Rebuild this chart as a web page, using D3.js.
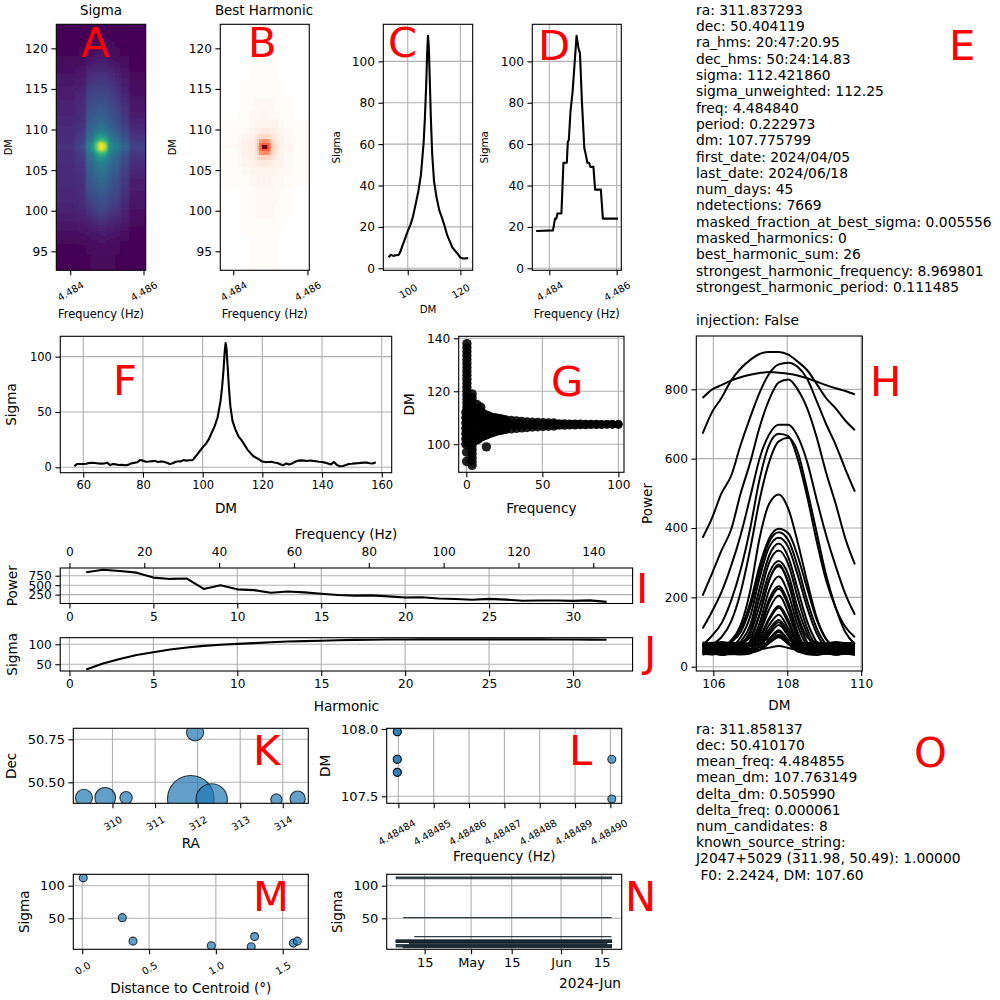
<!DOCTYPE html>
<html>
<head>
<meta charset="UTF-8">
<script src="https://d3js.org/d3.v7.min.js"></script>
<style>
  html, body { margin: 0; padding: 0; background: white; }
  svg { display: block; }
  text { font-family: "DejaVu Sans", sans-serif; fill: black; }
  .tick text { font-size: 12.2px; }
  .f11 .tick text { font-size: 11.5px; }
  .f13 .tick text { font-size: 13px; }
  .small .tick text { font-size: 10px; }
  .tick line, .domain { stroke: black; stroke-width: 1.1; }
  .grid line { stroke: #b0b0b0; stroke-width: 1.1; }
  .info { font-size: 13.85px; white-space: pre; }
  .letter { font-size: 41.7px; fill: red; }
</style>
</head>
<body>
<div id="chart"></div>
<script>
// ---- candidate info text
var infoTop = ["ra: 311.837293", "dec: 50.404119", "ra_hms: 20:47:20.95", "dec_hms: 50:24:14.83",
  "sigma: 112.421860", "sigma_unweighted: 112.25", "freq: 4.484840", "period: 0.222973", "dm: 107.775799",
  "first_date: 2024/04/05", "last_date: 2024/06/18", "num_days: 45", "ndetections: 7669",
  "masked_fraction_at_best_sigma: 0.005556", "masked_harmonics: 0", "best_harmonic_sum: 26",
  "strongest_harmonic_frequency: 8.969801", "strongest_harmonic_period: 0.111485", "", "injection: False"];
var infoBottom = ["ra: 311.858137", "dec: 50.410170", "mean_freq: 4.484855", "mean_dm: 107.763149",
  "delta_dm: 0.505990", "delta_freq: 0.000061", "num_candidates: 8", "known_source_string:",
  "J2047+5029 (311.98, 50.49): 1.00000", " F0: 2.2424, DM: 107.60"];

// ---- A, B heatmaps: cell edges and values
var freqEdges = [4.48362, 4.48414, 4.48424, 4.48443, 4.48458, 4.48464, 4.48470, 4.48478, 4.48490, 4.48497, 4.48503, 4.48512, 4.48523, 4.48537, 4.48560, 4.48606];
var dmEdges = [92.7, 95, 97, 99, 101, 103, 104.5, 105.5, 106.3, 106.9, 107.4, 107.7, 108.1, 108.4, 108.9, 109.5, 110.3, 111.3, 112.5, 114, 116, 118, 120, 123];
var sigmaGrid = [
  [3,3,4,4,5,5,5,5.5,5.5,5,5,5,4,4,3],
  [5,5,5,6,7,7,7,8,8,7,7,6,6,4,3],
  [9,9,10,11,12,13,13,14,14,13,12,12,11,9,5],
  [13,14,15,20,22,23,24,25,25,24,22,20,19,14,8],
  [15,16,17,27,29,30,31,32,32,31,29,27,25,18,10],
  [16,17,18,32,34,36,38,40,39,37,34,31,29,21,12],
  [16,18,19,36,38,41,43,46,45,42,38,35,33,24,15],
  [17,19,20,38,41,45,49,52,50,46,42,38,35,27,17],
  [17,20,22,41,45,52,58,64,60,54,47,42,38,29,19],
  [17,22,24,45,51,62,72,82,78,66,52,45,42,33,21],
  [18,23,25,49,58,70,88,108,98,76,57,49,47,36,23],
  [18,24,26.5,51,61,76,90,112,104,80,58,51,49,38,24],
  [18,23,25,49,58,70,88,108,98,76,57,49,47,36,23],
  [17,22,24,45,51,62,72,80,76,64,52,45,42,33,21],
  [17,20,22,41,45,52,58,62,58,52,46,41,37,29,19],
  [16,18,20,37,41,44,47,48,47,44,40,36,33,26,16],
  [15,17,18,34,36,38,39,40,39,38,35,32,29,22,14],
  [14,16,17,31,32,33,34,35,34,33,31,29,26,20,11],
  [13,15,16,27,28,29,30,30,30,29,27,25,23,17,9],
  [11,12,13,22,23,24,24,24,24,24,22,21,18,13,7],
  [8,9,9,15,16,16,17,17,17,16,15,14,12,9,5],
  [5,5,6,8,8,9,9,9,9,9,8,7,6,5,3],
  [3,3,3,4,4,4,4,4.5,4.5,4,4,4,3,3,3]
];
var harmonicGrid = [
  [0,0,0,1,1,1,1,1,1,1,1,1,0,0,0],
  [0,0,0,1,1,1,1,1,1,1,1,1,0,0,0],
  [0,0,1,1,1,1,1,1,1,1,1,1,1,0,0],
  [0,1,1,1,2,2,2,2,2,2,2,1,1,1,0],
  [0,1,1,1,2,2,2,2,2,2,2,2,1,1,0],
  [1,1,1,2,2,3,3,3,3,3,2,2,2,1,1],
  [1,1,2,3,4,5,5,5,5,5,4,3,2,2,1],
  [1,2,3,5,7,9,9,9,9,9,8,5,4,2,1],
  [1,2,3,6,10,15,18,18,18,16,12,7,4,2,1],
  [1,2,4,7,12,20,38,42,42,30,16,8,5,2,1],
  [1,2,4,8,14,24,48,55,55,42,18,9,5,3,1],
  [2,3,4,8,15,26,50,100,60,45,20,10,6,3,1],
  [1,2,4,8,14,24,48,55,55,42,18,9,5,3,1],
  [1,2,4,7,12,20,35,40,40,28,15,8,5,2,1],
  [1,2,3,6,9,13,16,17,17,14,11,7,4,2,1],
  [1,1,2,4,6,8,8,9,9,8,7,5,3,2,1],
  [1,1,1,2,3,4,4,4,4,4,3,3,2,1,1],
  [0,1,1,2,2,2,3,3,3,2,2,2,1,1,0],
  [0,1,1,1,2,2,2,2,2,2,2,1,1,1,0],
  [0,0,1,1,1,1,1,1,1,1,1,1,1,0,0],
  [0,0,0,1,1,1,1,1,1,1,1,1,0,0,0],
  [0,0,0,0,1,1,1,1,1,1,1,0,0,0,0],
  [0,0,0,0,0,1,1,1,1,1,0,0,0,0,0]
];

// ---- C, F: sigma against DM
var scanDm = [57,58,59,60,61,62,63,64,65,66,67,68,69,70,71,72,73,74,75,76,77,78,79,80,81,82,83,84,85,86,87,88,89,90,91,92,92.7,93.5,94.5,95.5,96.5,97,98,99,100,101,102,103,104,105,106,106.5,107,107.4,107.7,108,108.4,108.8,109.3,110,111,112,113,114,115,116,117,118,119,120,121,122,123,124,125,126,127,128,129,130,131,132,133,134,135,136,137,138,139,140,141,142,143,144,145,146,147,148,149,150,151,152,153,154,155,156,157,158];
var scanSigma = [1,3,3,3,3.2,3.8,4,3.8,3.4,3.3,3.4,4.2,2,3,2.6,2,2.2,1.8,2.2,3.5,4,4.5,6.5,6,5,5.2,5.5,5.8,4.8,5.3,5,4,3,3.6,5,5.5,5.3,6.5,6,6.3,6.5,7.5,11,14.5,18,21,25,31,37,45,60,72,88,105,112.4,107,90,72,55,42,34,28,24.5,20.5,16,13,10,8.5,7,5.2,4.7,4.8,5,4.3,3.8,2.8,1.8,3.5,2.5,3.5,5,6,6.2,6,5.6,6.2,5.8,5.5,5,4.8,4.2,3.5,2.6,4.8,2,1,1.2,2,3,3.2,3.5,3.6,4,4.2,4.2,3.6,3.4,4.6];

// ---- D: sigma against frequency
var stepFreq = [4.48361,4.48411,4.48417,4.48421,4.48424,4.48436,4.48442,4.48452,4.48455,4.48458,4.48463,4.48469,4.48481,4.48487,4.48491,4.48497,4.48504,4.48507,4.48513,4.48518,4.48522,4.48531,4.48536,4.48553,4.48559,4.48604];
var stepSigma = [18,18.3,24,24,26.5,26.5,51,51,61,62,76,85,112.4,106,104,80,58,56,51,51,49,49,38,38,24,24];

// ---- G: detections in frequency and DM
var gFreqOuter = [6.5,9,11,13,15,17.5,20,23,26,29.5,33,36.5,40,43.5,47,50.5,54,57.5,61,64.5,68,71.5,75,78.5,82,85.5,89,92.5,96,100];
var gDmHigh = [113.5,112.5,111.5,111,110.5,110,109.8,109.5,109.2,109,108.8,108.6,108.4,108.3,108.2,108.1,108,108,107.9,107.9,107.8,107.8,107.8,107.7,107.7,107.7,107.6,107.6,107.6,107.6];
var gDmMid = [107.5,107.5,107.5,107.5,107.5,107.5,107.5,107.5,107.5,107.5,107.5,107.5,107.5,107.5,107.5,107.5,107.5,107.5,107.5,107.5,107.5,107.5,107.5,107.5,107.5,107.5,107.5,107.5,107.5,107.5];
var gDmLow = [101.5,102.5,103,103.5,104,104.5,105,105.3,105.6,105.8,106,106.2,106.3,106.5,106.6,106.7,106.8,106.9,107,107,107.1,107.1,107.2,107.2,107.3,107.3,107.3,107.4,107.4,107.4];
var gFreqInner = [0.4,0.4,0.4,0.4,0.4,0.4,0.4,0.4,0.4,0.4,0.4,0.4,0.4,0.4,0.4,0.4,0.4,0.4,0.4,0.4,0.4,0.4,0.4,0.4,0.4,0.4,
  -0.3,-0.3,-0.3,-0.3,-0.3,-0.3,-0.3,0.2,0.2,
  3.8,3.8,3.8,3.8,3.8,3.8,3.8,3.8,3.8,3.8,3.8,3.8,3.8,3.8,3.8,3.8,3.8,3.8,3.8,
  7,7,7,7,7,7,7,9.5,9.5,9.5,9.5,9.5,9.5,9.5,12,12,12,12,13.2,
  11,11,11,11,13,13,13,13,15,15,15,15,17.5,17.5,20,20,23,23,
  8,8,10,10,12,12,14,14,16,16,19,19,21.5,21.5,24.5,24.5];
var gDmInner = [138,136.5,135,133.5,132,130.5,129,127.5,126,124.5,123,121.5,120,118.5,117,115.5,114,112.5,111,109.5,108,106.5,105,103.5,102,100.5,
  112,110,108,106,104,102,100,97,93.5,
  92,93.5,95,96.5,98,99.5,101,102.5,104,105.5,107,108.5,110,111.5,113,114.5,116,117.5,119,
  103,105,107,109,111,113,115,103.5,105,107,109,111,112,114,105,107,109,110,99,
  104.5,106,109,110.5,105,106.5,108.5,110,105.5,106.5,108.5,109.5,106,108.9,106.2,108.7,106.4,108.5,
  113,102,112,103,111.2,103.3,110.8,103.8,110.2,104.3,109.9,104.8,109.6,105.2,109.3,105.5];

// ---- H: power against DM for each harmonic
var curveDm = [105.71,105.97,106.22,106.48,106.74,107,107.25,107.51,107.77,108.03,108.28,108.54,108.8,109.05,109.31,109.57,109.83];
var harmonicCurves = [
  [775,800,812,825,835,842,847,850,848,845,840,832,822,812,803,795,785],
  [672,735,775,825,860,885,902,908,908,900,880,855,815,775,745,710,682],
  [372,430,500,550,640,720,790,845,872,877,865,830,765,700,640,570,505],
  [205,270,335,395,500,590,690,770,820,828,800,745,660,560,470,370,295],
  [110,160,215,290,380,490,600,670,698,698,665,590,480,380,290,210,150],
  [62,90,125,190,280,400,540,640,672,665,600,490,360,250,170,115,85],
  [58,65,85,130,215,340,480,590,650,660,620,510,385,265,170,100,65],
  [52,50,54,75,110,185,290,370,398,385,320,225,135,80,55,50,52],
  [60,62,58,75,120,220,370,470,497,455,360,245,140,80,60,58,62],
  [44,40,46,70,100,170,275,360,388,365,290,190,110,65,48,44,40],
  [66,62,65,60,85,145,255,345,372,345,265,170,95,60,62,66,64],
  [40,36,42,40,72,120,225,320,355,315,225,130,70,42,38,41,37],
  [56,52,57,54,65,105,200,300,335,295,200,110,62,54,58,53,56],
  [36,39,35,38,60,95,175,270,305,265,170,95,42,38,35,38,36],
  [66,69,65,68,70,85,150,250,290,245,150,85,70,66,69,65,68],
  [48,44,49,46,50,75,150,250,295,240,140,70,46,48,44,47,49],
  [60,57,61,58,60,70,125,220,260,210,120,64,58,61,57,60,58],
  [42,45,41,44,42,65,110,195,232,185,100,48,42,45,41,43,46],
  [52,54,50,53,50,60,105,185,225,175,90,54,50,53,51,54,50],
  [38,35,39,36,38,46,95,165,205,155,80,40,36,39,35,38,37],
  [62,65,61,63,60,64,85,140,175,135,72,62,65,60,63,61,64],
  [46,43,47,44,46,50,80,135,170,125,65,46,43,47,44,46,45],
  [66,63,67,64,66,64,74,120,150,110,68,64,66,63,67,65,63],
  [35,38,34,37,35,38,62,108,135,100,50,36,34,38,35,37,34],
  [58,55,59,56,57,58,64,100,128,92,60,56,59,55,58,56,59],
  [50,47,51,48,50,49,58,92,120,88,52,48,51,47,50,49,47],
  [70,67,71,68,69,67,72,82,105,78,70,68,70,67,71,68,69],
  [41,38,42,39,40,41,48,78,100,72,44,39,42,38,41,39,42],
  [54,57,53,55,54,52,56,72,92,68,55,53,56,52,54,57,53],
  [44,41,45,42,44,43,48,68,88,65,46,42,45,41,44,43,41],
  [64,61,63,60,64,62,66,70,85,68,64,61,64,60,63,62,65],
  [47,49,46,48,45,47,50,55,60,54,48,46,49,45,47,50,46]
];

// ---- I, J: per harmonic summaries
var harmonics = [1,2,3,4,5,6,7,8,9,10,11,12,13,14,15,16,17,18,19,20,21,22,23,24,25,26,27,28,29,30,31,32];
var harmonicPower = [840,905,875,830,700,665,675,400,497,390,370,300,335,310,275,240,225,230,205,175,180,150,135,115,140,120,90,95,95,85,100,60];
var harmonicSigma = [37,52,63,73,80,87,92,96,99,101,103,105,107,108,109,110,111,111.5,112,112,112.2,112.3,112.4,112.4,112.4,112.4,112.3,112.2,112,111.8,111.7,111.5];

// ---- K, M, N: the eight candidates of the cluster
var clusterRa = [311.84,312.33,311.94,310.32,313.85,309.83,314.35,309.33];
var clusterDec = [50.404,50.40,50.79,50.41,50.40,50.41,50.405,50.41];
var clusterDist = [0.0075,0.30,0.38,0.966,1.265,1.29,1.58,1.61];
var clusterSigma = [112,51,15,8,6.5,22,12,15];
var clusterFirst = ["2024-04-05","2024-04-07T14:00","2024-04-05","2024-04-05","2024-04-07T10:00","2024-04-11T10:00","2024-04-09T14:00","2024-04-05"];
var clusterLast = ["2024-06-18T14:00","2024-06-18T10:00","2024-06-18T14:00","2024-06-18T14:00","2024-06-18T14:00","2024-06-18T10:00","2024-06-17","2024-06-18T14:00"];
var clusterWidth = [2.8,1.3,3.5,3.5,3,1.3,3.5,3.5];

// ---- L: frequency against DM
var clusterFreq = [4.4848397,4.4848397,4.4848397,4.4848397,4.4848397,4.4848397,4.4849004,4.4849004];
var clusterDm = [107.98,107.98,107.775,107.775,107.678,107.678,107.775,107.48];

// ---- tick values
var dmTicks = [95,100,105,110,115,120];
var sigma20Ticks = [0,20,40,60,80,100];
var nTickDates = ["2024-04-15","2024-05-01","2024-05-15","2024-06-01","2024-06-15"];
var nTickLabels = ["15","May","15","Jun","15"];
var lTicks = [4.48484,4.48485,4.48486,4.48487,4.48488,4.48489,4.48490];

var width = 1000, height = 1000;
var blue = "#1f77b4";
var svg = d3.select("#chart").append("svg").attr("width", width).attr("height", height);
var defs = svg.append("defs");
var clipCount = 0;

// one axes box: grid first, data through draw(), frame on top
function panel(o) {
  var x = o.x.copy().range([o.left, o.right]);
  var y = o.y.copy().range([o.bottom, o.top]);
  var root = svg.append("g").attr("class", o.fontClass || null);
  var xAxis = d3.axisBottom(x).tickValues(o.xTicks).tickSizeOuter(0).tickSize(4.9).tickPadding(3.5)
    .tickFormat(o.xFormat || String);
  var yAxis = d3.axisLeft(y).tickValues(o.yTicks).tickSizeOuter(0).tickSize(4.9).tickPadding(3.5)
    .tickFormat(o.yFormat || String);

  if (o.grid !== false) {
    var g = root.append("g").attr("class", "grid");
    g.selectAll("line.v").data(o.xTicks).enter().append("line")
      .attr("x1", d => x(d)).attr("x2", d => x(d)).attr("y1", o.top).attr("y2", o.bottom);
    g.selectAll("line.h").data(o.yTicks).enter().append("line")
      .attr("x1", o.left).attr("x2", o.right).attr("y1", d => y(d)).attr("y2", d => y(d));
  }

  var id = "clip" + (clipCount++);
  defs.append("clipPath").attr("id", id).append("rect")
    .attr("x", o.left).attr("y", o.top).attr("width", o.right - o.left).attr("height", o.bottom - o.top);
  var plot = root.append("g").attr("clip-path", "url(#" + id + ")");
  if (o.draw) o.draw(plot, x, y);

  root.append("rect").attr("x", o.left).attr("y", o.top).attr("width", o.right - o.left).attr("height", o.bottom - o.top)
    .attr("fill", "none").attr("stroke", "black").attr("stroke-width", 1.1);

  var gx = root.append("g").attr("transform", "translate(0," + o.bottom + ")").call(xAxis);
  gx.select(".domain").remove();
  if (o.rotate) {
    gx.attr("class", "small");
    gx.selectAll(".tick text")
      .attr("text-anchor", "middle").attr("dy", null).attr("y", null).attr("dominant-baseline", "central")
      .attr("transform", "translate(" + (o.rotateDx || 0) + "," + o.rotate + ") rotate(-30)");
  }
  var gy = root.append("g").attr("transform", "translate(" + o.left + ",0)").call(yAxis);
  gy.select(".domain").remove();

  if (o.xLabel) label(o.xLabel[0], (o.left + o.right) / 2, o.xLabel[1], o.xLabelSize || 13.6);
  if (o.yLabel) label(o.yLabel[0], o.yLabel[1], (o.top + o.bottom) / 2, o.yLabelSize || 13.6, true);
  return { x: x, y: y, root: root };
}

function label(s, cx, cy, size, vertical) {
  svg.append("text").text(s).attr("font-size", size).attr("text-anchor", "middle").attr("dominant-baseline", "central")
    .attr("transform", "translate(" + cx + "," + cy + ")" + (vertical ? " rotate(-90)" : ""));
}

function drawLine(plot, xs, ys, x, y, sw) {
  var line = d3.line().x(d => x(d[0])).y(d => y(d[1]));
  plot.append("path").datum(xs.map((v, i) => [v, ys[i]])).attr("d", line)
    .attr("fill", "none").attr("stroke", "black").attr("stroke-width", sw || 2.1).attr("stroke-linejoin", "round");
}

// blocky cells, with a small blur like a resampled image
function heatmap(plot, grid, x, y, color, blur, id) {
  var f = defs.append("filter").attr("id", id).attr("x", "-10%").attr("y", "-10%").attr("width", "120%").attr("height", "120%");
  f.append("feGaussianBlur").attr("stdDeviation", blur);
  var g = plot.append("g").attr("filter", "url(#" + id + ")").attr("shape-rendering", "crispEdges");
  var nCols = grid[0].length, nRows = grid.length, pad = 8;
  grid.forEach((row, r) => {
    // outer cells run past the clip so the blur does not fade at the frame
    var top = y(dmEdges[r + 1]) - (r === nRows - 1 ? pad : 0);
    var bottom = y(dmEdges[r]) + (r === 0 ? pad : 0);
    g.selectAll("rect.r" + r).data(row).enter().append("rect")
      .attr("x", (d, c) => x(freqEdges[c]) - (c === 0 ? pad : 0))
      .attr("width", (d, c) => x(freqEdges[c + 1]) - x(freqEdges[c]) + 0.5 + (c === 0 || c === nCols - 1 ? pad : 0))
      .attr("y", top)
      .attr("height", bottom - top + 0.5)
      .attr("fill", d => color(d));
  });
}

// one rect per frequency column, colour running smoothly along DM
function heatmapColumns(plot, grid, x, y, color, blur, id) {
  var f = defs.append("filter").attr("id", id).attr("x", "-10%").attr("y", "-10%").attr("width", "120%").attr("height", "120%");
  f.append("feGaussianBlur").attr("stdDeviation", blur);
  var g = plot.append("g").attr("filter", "url(#" + id + ")").attr("shape-rendering", "crispEdges");
  var rowMid = grid.map((row, r) => (dmEdges[r] + dmEdges[r + 1]) / 2);
  var y1 = y(rowMid[0]), y2 = y(rowMid[rowMid.length - 1]);
  grid[0].forEach((v, c) => {
    var grad = defs.append("linearGradient").attr("id", id + "c" + c).attr("gradientUnits", "userSpaceOnUse")
      .attr("x1", 0).attr("x2", 0).attr("y1", y1).attr("y2", y2);
    grid.forEach((row, r) => {
      grad.append("stop").attr("offset", (y(rowMid[r]) - y1) / (y2 - y1)).attr("stop-color", color(row[c]));
    });
    g.append("rect")
      .attr("x", Math.round(x(freqEdges[c])) - (c === 0 ? 8 : 0))
      .attr("width", Math.round(x(freqEdges[c + 1])) - Math.round(x(freqEdges[c])) + 1 + (c === 0 || c === grid[0].length - 1 ? 8 : 0))
      .attr("y", y.range()[1] - 8).attr("height", y.range()[0] - y.range()[1] + 16)
      .attr("fill", "url(#" + id + "c" + c + ")");
  });
}

function scatter(plot, xs, ys, x, y, r) {
  plot.selectAll("circle.pt").data(xs).enter().append("circle")
    .attr("cx", d => x(d)).attr("cy", (d, i) => y(ys[i]))
    .attr("r", (d, i) => typeof r === "function" ? r(i) : r)
    .attr("fill", blue).attr("fill-opacity", 0.7)
    .attr("stroke", "black").attr("stroke-opacity", 0.75).attr("stroke-width", 1.1);
}

var fmt3 = d3.format(".3f"), fmt5 = d3.format(".5f");
// Reds, with its palest end faded on to white
var redsFaded = v => v < 3 ? d3.interpolateRgb("#ffffff", "#fff5f0")(v / 3) : d3.interpolateReds((v - 3) / 97);

// A
panel({ left: 56.3, right: 145.7, top: 24.3, bottom: 270.3,
  x: d3.scaleLinear().domain([4.48362, 4.48606]), y: d3.scaleLinear().domain([92.66, 122.96]),
  xTicks: [4.484, 4.486], yTicks: dmTicks, xFormat: fmt3, grid: false, rotate: 21,
  xLabel: ["Frequency (Hz)", 314], xLabelSize: 11.4, yLabel: ["DM", 8], yLabelSize: 9.8,
  draw: (plot, x, y) => heatmapColumns(plot, sigmaGrid, x, y, d3.scaleSequential(d3.interpolateViridis).domain([3, 112]), "1 0.4", "blurA") });
// B
panel({ left: 220.3, right: 309.3, top: 24.3, bottom: 270.3,
  x: d3.scaleLinear().domain([4.48365, 4.48605]), y: d3.scaleLinear().domain([92.66, 122.96]),
  xTicks: [4.484, 4.486], yTicks: dmTicks, xFormat: fmt3, grid: false, rotate: 21,
  xLabel: ["Frequency (Hz)", 314], xLabelSize: 11.4, yLabel: ["DM", 172], yLabelSize: 9.8,
  draw: (plot, x, y) => heatmap(plot, harmonicGrid, x, y, redsFaded, "0.45", "blurB") });
label("Sigma", 101, 10, 13.4);
label("Best Harmonic", 264, 10, 13.4);
// C
panel({ left: 383.3, right: 472.7, top: 24.3, bottom: 270.3,
  x: d3.scaleLinear().domain([90.7, 124.7]), y: d3.scaleLinear().domain([-0.97, 117.9]),
  xTicks: [100, 120], yTicks: sigma20Ticks, rotate: 21,
  xLabel: ["DM", 309], xLabelSize: 10.2, yLabel: ["Sigma", 336], yLabelSize: 10.4,
  draw: (plot, x, y) => {
    var keep = scanDm.map((d, i) => i).filter(i => scanDm[i] >= 92.7 && scanDm[i] <= 123);
    drawLine(plot, keep.map(i => scanDm[i]), keep.map(i => scanSigma[i]), x, y);
  } });
// D
panel({ left: 532.3, right: 621.3, top: 24.3, bottom: 270.3,
  x: d3.scaleLinear().domain([4.483496, 4.486137]), y: d3.scaleLinear().domain([-0.97, 117.9]),
  xTicks: [4.484, 4.486], yTicks: sigma20Ticks, xFormat: fmt3, rotate: 21,
  xLabel: ["Frequency (Hz)", 314], xLabelSize: 11.4, yLabel: ["Sigma", 484], yLabelSize: 10.4,
  draw: (plot, x, y) => drawLine(plot, stepFreq, stepSigma, x, y) });
// F
panel({ left: 60.3, right: 391.7, top: 336.3, bottom: 472.7, fontClass: "f11",
  x: d3.scaleLinear().domain([52.3, 163.35]), y: d3.scaleLinear().domain([-4.9, 118.4]),
  xTicks: [60, 80, 100, 120, 140, 160], yTicks: [0, 50, 100],
  xLabel: ["DM", 508], yLabel: ["Sigma", 11],
  draw: (plot, x, y) => drawLine(plot, scanDm, scanSigma, x, y) });
// G
panel({ left: 458.7, right: 624, top: 336.3, bottom: 472.3,
  x: d3.scaleLinear().domain([-5, 103.7]), y: d3.scaleLinear().domain([89.4, 140.75]),
  xTicks: [0, 50, 100], yTicks: [100, 120, 140],
  xLabel: ["Frequency", 507.5], yLabel: ["DM", 409],
  draw: (plot, x, y) => {
    var gf = gFreqOuter.concat(gFreqOuter, gFreqOuter, gFreqInner);
    var gd = gDmHigh.concat(gDmMid, gDmLow, gDmInner);
    plot.selectAll("circle").data(gf).enter().append("circle")
      .attr("cx", d => x(d)).attr("cy", (d, i) => y(gd[i])).attr("r", d => d > 60 ? 4.1 : 4.7)
      .attr("fill", "black").attr("fill-opacity", 0.88);
  } });
// H
panel({ left: 696.3, right: 862.3, top: 336, bottom: 671,
  x: d3.scaleLinear().domain([105.54, 110.03]), y: d3.scaleLinear().domain([-12.4, 953.8]),
  xTicks: [106, 108, 110], yTicks: [0, 200, 400, 600, 800],
  xLabel: ["DM", 705], yLabel: ["Power", 647],
  draw: (plot, x, y) => {
    var line = d3.line().x((d, i) => x(curveDm[i])).y(d => y(d)).curve(d3.curveMonotoneX);
    plot.selectAll("path").data(harmonicCurves).enter().append("path").attr("d", line)
      .attr("fill", "none").attr("stroke", "black").attr("stroke-width", 2);
  } });
// I, with the top frequency axis
panel({ left: 60.2, right: 632.6, top: 568, bottom: 603.5,
  x: d3.scaleLinear().domain([-0.55, 33.55]), y: d3.scaleLinear().domain([17, 953]),
  xTicks: [0, 5, 10, 15, 20, 25, 30], yTicks: [250, 500, 750],
  yLabel: ["Power", 12],
  draw: (plot, x, y) => drawLine(plot, harmonics, harmonicPower, x, y) });
var topX = d3.scaleLinear().domain([-2.47, 150.5]).range([60.2, 632.6]);
svg.append("g").attr("transform", "translate(0,568)")
  .call(d3.axisTop(topX).tickValues([0, 20, 40, 60, 80, 100, 120, 140]).tickSizeOuter(0).tickSize(4.9).tickPadding(7))
  .select(".domain").remove();
label("Frequency (Hz)", 346, 534, 13.6);
// J
panel({ left: 60.2, right: 632.6, top: 637.7, bottom: 671,
  x: d3.scaleLinear().domain([-0.55, 33.55]), y: d3.scaleLinear().domain([33, 116.5]),
  xTicks: [0, 5, 10, 15, 20, 25, 30], yTicks: [50, 100],
  xLabel: ["Harmonic", 706], yLabel: ["Sigma", 12],
  draw: (plot, x, y) => drawLine(plot, harmonics, harmonicSigma, x, y) });
// K
var areaRadius = d3.scaleSqrt().domain([0, 112]).range([0, 23.3]);
panel({ left: 73.3, right: 308.3, top: 728.3, bottom: 803.3, fontClass: "f13",
  x: d3.scaleLinear().domain([309.08, 314.6]), y: d3.scaleLinear().domain([50.378, 50.814]),
  xTicks: [310, 311, 312, 313, 314], yTicks: [50.5, 50.75], yFormat: d3.format(".2f"), rotate: 20,
  xLabel: ["RA", 843], yLabel: ["Dec", 11],
  draw: (plot, x, y) => scatter(plot, clusterRa, clusterDec, x, y, i => areaRadius(clusterSigma[i])) });
// L
panel({ left: 386.7, right: 621.7, top: 728.3, bottom: 803.3, fontClass: "f13",
  x: d3.scaleLinear().domain([4.4848367, 4.4849032]), y: d3.scaleLinear().domain([107.448, 108.005]),
  xTicks: lTicks, yTicks: [107.5, 108], xFormat: fmt5, yFormat: d3.format(".1f"), rotate: 29, rotateDx: -2,
  xLabel: ["Frequency (Hz)", 856], yLabel: ["DM", 325],
  draw: (plot, x, y) => scatter(plot, clusterFreq, clusterDm, x, y, 4) });
// M
panel({ left: 73.3, right: 308.3, top: 874.3, bottom: 949.3, fontClass: "f13",
  x: d3.scaleLinear().domain([-0.067, 1.692]), y: d3.scaleLinear().domain([2.5, 117.5]),
  xTicks: [0, 0.5, 1, 1.5], yTicks: [50, 100], xFormat: d3.format(".1f"), rotate: 19,
  xLabel: ["Distance to Centroid (°)", 988], yLabel: ["Sigma", 24],
  draw: (plot, x, y) => scatter(plot, clusterDist, clusterSigma, x, y, 4) });
// N
var nDate = d3.utcParse("%Y-%m-%d");
var nRead = s => new Date(s + (s.length > 10 ? ":00Z" : "T00:00:00Z"));
panel({ left: 386.7, right: 621.7, top: 874.3, bottom: 949.3, fontClass: "f13",
  x: d3.scaleUtc().domain([new Date("2024-04-01T22:00:00Z"), new Date("2024-06-21T22:00:00Z")]),
  y: d3.scaleLinear().domain([2.5, 117.5]),
  xTicks: nTickDates.map(nDate), yTicks: [50, 100], xFormat: (d, i) => nTickLabels[i],
  yLabel: ["Sigma", 337],
  draw: (plot, x, y) => {
    plot.selectAll("line").data(clusterSigma).enter().append("line")
      .attr("x1", (d, i) => x(nRead(clusterFirst[i]))).attr("x2", (d, i) => x(nRead(clusterLast[i])))
      .attr("y1", d => y(d)).attr("y2", d => y(d))
      .attr("stroke", "#17242e").attr("stroke-opacity", 0.88).attr("stroke-width", (d, i) => clusterWidth[i]);
  } });
svg.append("text").text("2024-Jun").attr("x", 621).attr("y", 988).attr("text-anchor", "end").attr("font-size", 13.7);

// info text
svg.selectAll("text.top").data(infoTop).enter().append("text").attr("class", "info")
  .attr("x", 696).attr("y", (d, i) => 14.8 + i * 16.3).text(d => d);
svg.selectAll("text.bot").data(infoBottom).enter().append("text").attr("class", "info")
  .attr("x", 696).attr("y", (d, i) => 733.8 + i * 16.2).text(d => d);

// panel letters
var letters = ["A","B","C","D","E","F","G","H","I","J","K","L","M","N","O"];
var letterX = [81,248,388,538,949,113,551,870,636,644,253,569,253,625,914];
var letterY = [57,57,57,60,60,395,396,396,603,666,765,765,911,911,767];
svg.selectAll("text.letter").data(letters).enter().append("text").attr("class", "letter")
  .attr("x", (d, i) => letterX[i]).attr("y", (d, i) => letterY[i]).text(d => d);
</script>
</body>
</html>
